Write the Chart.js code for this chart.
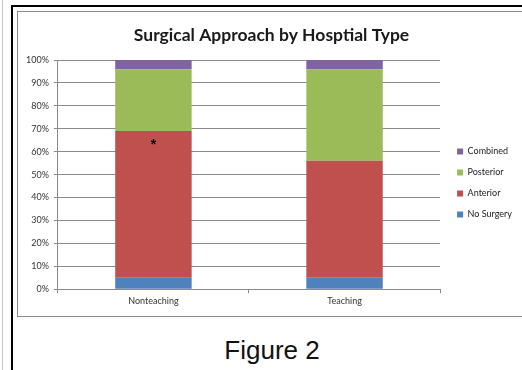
<!DOCTYPE html>
<html>
<head>
<meta charset="utf-8">
<script src="https://cdn.jsdelivr.net/npm/chart.js@4"></script>
<style>
  html, body { margin: 0; padding: 0; background: #fff; }
  body { width: 522px; height: 370px; position: relative; overflow: hidden; }
  .edge { position: absolute; left: 2px; top: 0; width: 1px; height: 370px; background: #c8c8c8; }
  .frame { position: absolute; left: 11px; top: 5px; width: 520px; height: 380px;
           border-left: 2px solid #000; border-top: 2px solid #000; }
  .box { position: absolute; left: 17px; top: 11px; width: 520px; height: 304px;
         border-left: 1px solid #8a8a8a; border-top: 1px solid #8a8a8a; border-bottom: 1px solid #8a8a8a; }
  #wrap { position: absolute; left: 18px; top: 12px; width: 504px; height: 303px; }
  .caption { position: absolute; left: 22px; width: 500px; top: 335px; text-align: center;
             font-family: "Liberation Sans", Arial, sans-serif; font-size: 26px; color: #111; }
</style>
</head>
<body>
<div class="edge"></div>
<div class="frame"></div>
<div class="box"></div>
<div id="wrap"><canvas id="c"></canvas></div>
<div class="caption">Figure 2</div>
<script>
const categories = ['Nonteaching', 'Teaching'];
const noSurgery = [5, 5];
const anterior = [64, 51];
const posterior = [27, 40];
const combined = [4, 4];
const yTickLabels = ['0%', '10%', '20%', '30%', '40%', '50%', '60%', '70%', '80%', '90%', '100%'];
// significance marker on the Nonteaching bar
const markerCategory = 0;
const markerValue = 63;

// extra space between the plot and the legend, and a small downward nudge of the legend
const legendGap = 5;
const legendDrop = 23;

const legendSpacing = {
  id: 'legendSpacing',
  beforeInit(chart) {
    const lg = chart.legend;
    if (!lg) return;
    const fit = lg.fit.bind(lg);
    lg.fit = function () {
      fit();
      if (!this.isHorizontal()) this.width += legendGap;
    };
  },
  afterLayout(chart) {
    const lg = chart.legend;
    if (!lg) return;
    lg.left += legendGap;
    lg.right += legendGap;
    lg.top += legendDrop;
    lg.bottom += legendDrop;
  }
};

const starPlugin = {
  id: 'starMarker',
  afterDatasetsDraw(chart) {
    const { ctx, scales } = chart;
    const x = scales.x.getPixelForValue(markerCategory);
    const y = scales.y.getPixelForValue(markerValue);
    ctx.save();
    ctx.fillStyle = '#000';
    ctx.font = 'bold 14px "Liberation Sans", Arial, sans-serif';
    ctx.textAlign = 'center';
    ctx.textBaseline = 'middle';
    ctx.fillText('*', x, y);
    ctx.restore();
  }
};

const tickFont = { family: 'Lato, "Open Sans", sans-serif', size: 9 };

new Chart(document.getElementById('c'), {
  type: 'bar',
  data: {
    labels: categories,
    datasets: [
      { label: 'No Surgery', data: noSurgery, backgroundColor: '#4f81bd' },
      { label: 'Anterior', data: anterior, backgroundColor: '#c0504d' },
      { label: 'Posterior', data: posterior, backgroundColor: '#9bbb59' },
      { label: 'Combined', data: combined, backgroundColor: '#8064a2' }
    ]
  },
  options: {
    responsive: true,
    maintainAspectRatio: false,
    animation: false,
    layout: { padding: { left: 3, right: 0, top: 0, bottom: 7 } },
    datasets: { bar: { categoryPercentage: 0.4, barPercentage: 1.0 } },
    plugins: {
      title: {
        display: true,
        text: 'Surgical Approach by Hosptial Type',
        color: '#1a1a1a',
        font: { family: 'Lato, "Open Sans", sans-serif', size: 17.5, weight: 'bold' },
        padding: { top: 13, bottom: 14 }
      },
      legend: {
        position: 'right',
        reverse: true,
        labels: {
          boxWidth: 6, boxHeight: 6, padding: 12,
          color: '#222',
          font: { family: 'Lato, "Open Sans", sans-serif', size: 9 }
        }
      },
      tooltip: { enabled: false }
    },
    scales: {
      x: {
        stacked: true,
        grid: { offset: true, drawOnChartArea: false, drawTicks: true, tickLength: 4, color: '#8a8a8a' },
        border: { color: '#8a8a8a' },
        ticks: { color: '#333', font: tickFont, padding: 2 }
      },
      y: {
        stacked: true,
        min: 0, max: 100,
        grid: { color: '#8a8a8a', tickLength: 4 },
        border: { color: '#8a8a8a' },
        ticks: {
          stepSize: 10,
          color: '#333',
          font: tickFont,
          padding: 5,
          callback: (v) => yTickLabels[Math.round(v / 10)]
        }
      }
    }
  },
  plugins: [legendSpacing, starPlugin]
});
</script>
</body>
</html>
